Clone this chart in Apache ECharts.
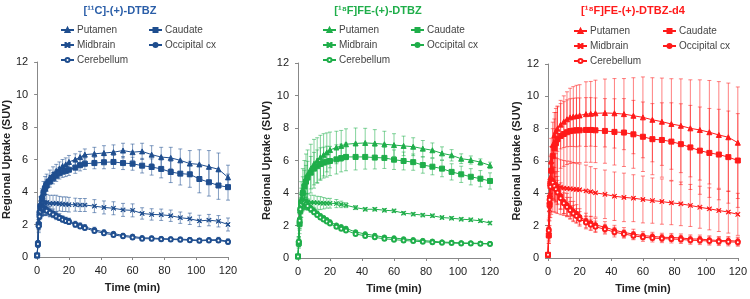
<!DOCTYPE html>
<html>
<head>
<meta charset="utf-8">
<script src="https://cdn.jsdelivr.net/npm/echarts@6/dist/echarts.min.js"></script>
<style>
  html, body { margin: 0; padding: 0; background: #fff; }
  #main { width: 750px; height: 299px; }
</style>
</head>
<body>
<div id="main"></div>
<script>
// time points (min)
var times = [0, 0.5, 1, 1.5, 2, 3, 4, 5, 6, 8, 10, 12, 14, 16, 18, 20, 24, 27, 30, 36, 42, 48, 54, 60, 66, 72, 78, 84, 90, 96, 102, 108, 114, 120];
var regions = ['Putamen', 'Caudate', 'Midbrain', 'Occipital cx', 'Cerebellum'];
var titles = ['[\u00b9\u00b9C]-(+)-DTBZ', '[\u00b9\u2078F]FE-(+)-DTBZ', '[\u00b9\u2078F]FE-(+)-DTBZ-d4'];

// [11C]-(+)-DTBZ
var c11Putamen = [0.1, 0.9, 2.2, 2.9, 3.3, 3.8, 4.2, 4.5, 4.65, 4.9, 5.1, 5.3, 5.45, 5.6, 5.7, 5.85, 6.0, 6.15, 6.3, 6.35, 6.4, 6.45, 6.55, 6.45, 6.5, 6.3, 6.15, 6.1, 5.95, 5.75, 5.7, 5.55, 5.4, 4.9];
var c11PutamenSd = [0.05, 0.1, 0.3, 0.4, 0.4, 0.4, 0.45, 0.45, 0.45, 0.45, 0.45, 0.4, 0.4, 0.4, 0.4, 0.4, 0.35, 0.35, 0.35, 0.4, 0.45, 0.45, 0.45, 0.5, 0.5, 0.55, 0.6, 0.65, 0.7, 0.8, 0.9, 1.0, 1.0, 0.75];
var c11Caudate = [0.1, 0.8, 2.0, 2.7, 3.1, 3.6, 3.95, 4.2, 4.4, 4.65, 4.85, 5.0, 5.15, 5.25, 5.3, 5.37, 5.5, 5.65, 5.74, 5.78, 5.83, 5.85, 5.78, 5.74, 5.62, 5.54, 5.42, 5.23, 5.13, 5.09, 4.8, 4.6, 4.4, 4.3];
var c11CaudateSd = [0.05, 0.1, 0.3, 0.35, 0.35, 0.35, 0.35, 0.35, 0.35, 0.35, 0.35, 0.35, 0.35, 0.35, 0.35, 0.35, 0.35, 0.35, 0.35, 0.35, 0.4, 0.4, 0.4, 0.4, 0.45, 0.5, 0.55, 0.65, 0.7, 0.8, 0.85, 0.85, 0.85, 0.8];
var c11Midbrain = [0.1, 0.8, 2.0, 2.7, 3.0, 3.25, 3.35, 3.35, 3.35, 3.3, 3.3, 3.3, 3.28, 3.25, 3.25, 3.22, 3.22, 3.2, 3.2, 3.13, 3.05, 3.0, 2.9, 2.87, 2.68, 2.62, 2.6, 2.54, 2.42, 2.35, 2.22, 2.27, 2.2, 2.0];
var c11MidbrainSd = [0.05, 0.2, 0.3, 0.4, 0.45, 0.5, 0.5, 0.5, 0.5, 0.5, 0.5, 0.5, 0.45, 0.45, 0.45, 0.45, 0.4, 0.4, 0.4, 0.4, 0.4, 0.4, 0.4, 0.4, 0.35, 0.35, 0.35, 0.35, 0.35, 0.35, 0.35, 0.35, 0.35, 0.4];
var c11Occipital = [0.1, 0.8, 2.0, 2.6, 2.9, 3.05, 3.05, 3.0, 2.95, 2.8, 2.7, 2.58, 2.47, 2.38, 2.3, 2.24, 2.05, 1.95, 1.85, 1.68, 1.54, 1.44, 1.33, 1.27, 1.18, 1.17, 1.13, 1.11, 1.1, 1.07, 1.03, 1.06, 1.06, 0.97];
var c11OccipitalSd = [0.05, 0.2, 0.4, 0.5, 0.5, 0.5, 0.45, 0.4, 0.35, 0.3, 0.25, 0.2, 0.2, 0.15, 0.15, 0.15, 0.15, 0.15, 0.15, 0.15, 0.12, 0.12, 0.12, 0.12, 0.12, 0.12, 0.12, 0.12, 0.12, 0.12, 0.12, 0.12, 0.15, 0.15];
var c11Cerebellum = [0.1, 0.8, 1.9, 2.5, 2.8, 2.95, 2.95, 2.9, 2.85, 2.72, 2.62, 2.5, 2.4, 2.3, 2.22, 2.15, 1.98, 1.88, 1.78, 1.6, 1.46, 1.36, 1.27, 1.2, 1.13, 1.12, 1.1, 1.08, 1.06, 1.03, 1.0, 1.02, 1.02, 0.93];
var c11CerebellumSd = [0.05, 0.2, 0.4, 0.45, 0.45, 0.45, 0.4, 0.35, 0.3, 0.25, 0.2, 0.2, 0.15, 0.15, 0.15, 0.15, 0.15, 0.12, 0.12, 0.12, 0.12, 0.12, 0.12, 0.12, 0.12, 0.12, 0.12, 0.12, 0.12, 0.12, 0.12, 0.12, 0.12, 0.12];

// [18F]FE-(+)-DTBZ
var fePutamen = [0.1, 1.0, 2.3, 3.1, 3.6, 4.2, 4.6, 4.9, 5.15, 5.5, 5.8, 6.0, 6.2, 6.35, 6.5, 6.65, 6.8, 6.9, 7.0, 7.05, 7.08, 7.05, 7.0, 6.95, 6.9, 6.85, 6.73, 6.63, 6.44, 6.32, 6.11, 6.03, 5.9, 5.7];
var fePutamenSd = [0.05, 0.3, 0.6, 0.9, 1.1, 1.3, 1.4, 1.5, 1.5, 1.5, 1.5, 1.4, 1.35, 1.3, 1.2, 1.1, 1.0, 0.95, 0.95, 0.95, 0.9, 0.85, 0.8, 0.7, 0.6, 0.55, 0.5, 0.45, 0.4, 0.35, 0.3, 0.25, 0.2, 0.2];
var feCaudate = [0.1, 0.9, 2.1, 2.9, 3.4, 4.0, 4.4, 4.7, 4.95, 5.25, 5.5, 5.65, 5.78, 5.87, 5.93, 5.97, 6.07, 6.15, 6.22, 6.22, 6.22, 6.18, 6.16, 6.05, 5.97, 5.9, 5.72, 5.62, 5.5, 5.3, 5.15, 5.0, 4.88, 4.74];
var feCaudateSd = [0.05, 0.3, 0.6, 0.8, 0.9, 1.0, 1.0, 1.0, 1.0, 1.0, 1.0, 1.0, 1.0, 0.95, 0.95, 0.9, 0.9, 0.85, 0.85, 0.8, 0.75, 0.7, 0.65, 0.6, 0.55, 0.5, 0.5, 0.5, 0.5, 0.5, 0.5, 0.5, 0.5, 0.5];
var feMidbrain = [0.1, 1.0, 2.3, 3.0, 3.3, 3.5, 3.5, 3.48, 3.45, 3.42, 3.41, 3.4, 3.38, 3.37, 3.37, 3.37, 3.35, 3.3, 3.25, 3.1, 3.0, 3.0, 2.94, 2.9, 2.76, 2.7, 2.64, 2.6, 2.49, 2.45, 2.39, 2.35, 2.29, 2.15];
var feMidbrainSd = [0.05, 0.3, 0.5, 0.6, 0.6, 0.55, 0.5, 0.5, 0.5, 0.45, 0.45, 0.4, 0.4, 0.35, 0.3, 0.3, 0.25, 0.2, 0.15, 0.12, 0.1, 0.1, 0.1, 0.1, 0.1, 0.1, 0.1, 0.1, 0.1, 0.1, 0.1, 0.1, 0.1, 0.1];
var feOccipital = [0.1, 1.0, 2.4, 3.1, 3.4, 3.55, 3.5, 3.4, 3.3, 3.1, 2.92, 2.75, 2.6, 2.48, 2.35, 2.22, 2.02, 1.92, 1.82, 1.6, 1.48, 1.38, 1.28, 1.23, 1.17, 1.12, 1.07, 1.03, 0.98, 0.96, 0.93, 0.92, 0.9, 0.88];
var feOccipitalSd = [0.05, 0.3, 0.5, 0.55, 0.5, 0.45, 0.4, 0.35, 0.3, 0.25, 0.2, 0.15, 0.12, 0.1, 0.1, 0.1, 0.1, 0.1, 0.1, 0.1, 0.1, 0.1, 0.1, 0.1, 0.1, 0.1, 0.1, 0.1, 0.1, 0.1, 0.1, 0.1, 0.1, 0.1];
var feCerebellum = [0.1, 1.0, 2.3, 3.0, 3.3, 3.45, 3.4, 3.3, 3.2, 3.0, 2.82, 2.65, 2.5, 2.37, 2.25, 2.12, 1.92, 1.8, 1.7, 1.48, 1.36, 1.27, 1.18, 1.13, 1.08, 1.04, 1.0, 0.97, 0.94, 0.92, 0.9, 0.89, 0.88, 0.86];
var feCerebellumSd = [0.05, 0.3, 0.5, 0.5, 0.45, 0.4, 0.35, 0.3, 0.25, 0.2, 0.15, 0.12, 0.1, 0.1, 0.1, 0.1, 0.1, 0.1, 0.1, 0.1, 0.1, 0.1, 0.1, 0.1, 0.1, 0.1, 0.1, 0.1, 0.1, 0.1, 0.1, 0.1, 0.1, 0.1];

// [18F]FE-(+)-DTBZ-d4
var d4Putamen = [0.2, 1.5, 3.5, 5.0, 6.0, 7.0, 7.6, 7.85, 8.0, 8.25, 8.43, 8.58, 8.7, 8.75, 8.78, 8.82, 8.9, 8.92, 8.95, 8.97, 8.95, 8.9, 8.8, 8.7, 8.55, 8.43, 8.29, 8.18, 8.02, 7.92, 7.78, 7.61, 7.47, 7.13];
var d4PutamenSd = [0.1, 0.5, 1.0, 1.3, 1.4, 1.4, 1.4, 1.4, 1.4, 1.5, 1.6, 1.7, 1.8, 1.85, 1.9, 1.9, 2.0, 2.0, 2.05, 2.1, 2.15, 2.2, 2.35, 2.5, 2.6, 2.7, 2.8, 2.9, 3.0, 3.1, 3.2, 3.3, 3.35, 3.45];
var d4Caudate = [0.2, 1.4, 3.3, 4.6, 5.4, 6.3, 6.8, 7.1, 7.35, 7.55, 7.67, 7.78, 7.85, 7.88, 7.9, 7.9, 7.92, 7.92, 7.9, 7.86, 7.8, 7.76, 7.65, 7.5, 7.35, 7.3, 7.2, 7.04, 6.84, 6.64, 6.5, 6.4, 6.24, 6.03];
var d4CaudateSd = [0.1, 0.5, 1.0, 1.3, 1.5, 1.7, 1.8, 1.9, 2.0, 2.0, 2.0, 2.0, 2.0, 2.0, 2.0, 2.0, 2.0, 2.0, 2.0, 2.0, 2.05, 2.1, 2.1, 2.15, 2.2, 2.3, 2.4, 2.5, 2.6, 2.7, 2.75, 2.8, 2.85, 2.9];
var d4Midbrain = [0.2, 1.4, 3.0, 3.9, 4.3, 4.55, 4.55, 4.5, 4.45, 4.38, 4.33, 4.3, 4.28, 4.26, 4.24, 4.22, 4.15, 4.1, 4.03, 3.94, 3.82, 3.75, 3.7, 3.62, 3.55, 3.49, 3.41, 3.35, 3.25, 3.14, 3.04, 2.94, 2.84, 2.7];
var d4MidbrainSd = [0.1, 0.5, 1.0, 1.4, 1.6, 1.7, 1.7, 1.7, 1.7, 1.7, 1.7, 1.7, 1.7, 1.65, 1.6, 1.6, 1.6, 1.55, 1.5, 1.5, 1.5, 1.5, 1.45, 1.45, 1.4, 1.4, 1.35, 1.35, 1.3, 1.3, 1.3, 1.3, 1.3, 1.3];
var d4Occipital = [0.2, 1.8, 3.8, 4.6, 4.85, 4.8, 4.6, 4.4, 4.2, 3.85, 3.5, 3.3, 3.1, 2.9, 2.75, 2.55, 2.32, 2.18, 2.05, 1.9, 1.72, 1.58, 1.48, 1.38, 1.34, 1.28, 1.27, 1.24, 1.18, 1.17, 1.12, 1.08, 1.08, 1.04];
var d4OccipitalSd = [0.1, 0.6, 1.0, 1.2, 1.2, 1.1, 1.0, 0.9, 0.85, 0.8, 0.75, 0.7, 0.65, 0.6, 0.55, 0.5, 0.45, 0.4, 0.4, 0.35, 0.3, 0.3, 0.3, 0.25, 0.25, 0.25, 0.25, 0.25, 0.25, 0.25, 0.25, 0.25, 0.25, 0.25];
var d4Cerebellum = [0.2, 1.7, 3.6, 4.4, 4.7, 4.65, 4.45, 4.25, 4.05, 3.7, 3.38, 3.15, 2.95, 2.75, 2.6, 2.42, 2.2, 2.05, 1.93, 1.78, 1.6, 1.48, 1.38, 1.28, 1.24, 1.2, 1.18, 1.15, 1.1, 1.08, 1.05, 1.02, 1.0, 0.98];
var d4CerebellumSd = [0.1, 0.6, 1.0, 1.1, 1.1, 1.0, 0.9, 0.8, 0.75, 0.7, 0.65, 0.6, 0.55, 0.5, 0.45, 0.45, 0.4, 0.35, 0.35, 0.3, 0.3, 0.25, 0.25, 0.25, 0.25, 0.25, 0.25, 0.25, 0.25, 0.25, 0.25, 0.25, 0.25, 0.25];

var panels = [
  { key: 'c11', color: '#1f4e8f', titleColor: '#2a5ea8', values: [c11Putamen, c11Caudate, c11Midbrain, c11Occipital, c11Cerebellum], sds: [c11PutamenSd, c11CaudateSd, c11MidbrainSd, c11OccipitalSd, c11CerebellumSd] },
  { key: 'fe', color: '#1fae4a', titleColor: '#1fae4a', values: [fePutamen, feCaudate, feMidbrain, feOccipital, feCerebellum], sds: [fePutamenSd, feCaudateSd, feMidbrainSd, feOccipitalSd, feCerebellumSd] },
  { key: 'd4', color: '#ff1a1a', titleColor: '#ff1a1a', values: [d4Putamen, d4Caudate, d4Midbrain, d4Occipital, d4Cerebellum], sds: [d4PutamenSd, d4CaudateSd, d4MidbrainSd, d4OccipitalSd, d4CerebellumSd] }
];

// layout of each panel (pixels)
var grids = [
  { left: 36, right: 522, top: 62, bottom: 42 },
  { left: 298, right: 260, top: 63, bottom: 40 },
  { left: 548, right: 9, top: 64, bottom: 38 }
];
var titleX = [115, 373, 628];
var legendCols = [[60, 148], [322, 410], [573, 662]];
var legendTop = [25, 25, 26];

var crossPath = 'path://M0,0L1,0L10,9L10,10L9,10L0,1ZM10,0L10,1L1,10L0,10L0,9L9,0Z';
var symbols = ['triangle', 'rect', crossPath, 'circle', 'emptyCircle'];
var symbolSizes = [5, 5, 4, 4.5, 4];

function errorRender(params, api) {
  var t = api.value(0);
  var lo = api.coord([t, api.value(1)]);
  var hi = api.coord([t, api.value(2)]);
  var w = 2;
  var st = { stroke: api.visual('color'), lineWidth: 1, opacity: 0.55 };
  return {
    type: 'group',
    children: [
      { type: 'line', shape: { x1: lo[0], y1: lo[1], x2: hi[0], y2: hi[1] }, style: st },
      { type: 'line', shape: { x1: lo[0] - w, y1: lo[1], x2: lo[0] + w, y2: lo[1] }, style: st },
      { type: 'line', shape: { x1: hi[0] - w, y1: hi[1], x2: hi[0] + w, y2: hi[1] }, style: st }
    ]
  };
}

var myChart = echarts.init(document.getElementById('main'), null, { renderer: 'canvas' });
var font = 'Liberation Sans, Arial, sans-serif';

var option = {
  animation: false,
  backgroundColor: '#fff',
  title: [],
  legend: [],
  grid: [],
  xAxis: [],
  yAxis: [],
  series: []
};

panels.forEach(function (p, pi) {
  option.title.push({
    text: titles[pi], left: titleX[pi], top: 0, textAlign: 'center',
    textStyle: { color: p.titleColor, fontSize: 11, fontWeight: 'bold', fontFamily: font }
  });
  option.grid.push({ left: grids[pi].left, right: grids[pi].right, top: grids[pi].top, bottom: grids[pi].bottom });
  option.xAxis.push({
    type: 'value', gridIndex: pi, min: 0, max: 120, interval: 20,
    name: 'Time (min)', nameLocation: 'middle', nameGap: 25,
    nameTextStyle: { color: '#222', fontSize: 11, fontWeight: 'bold', fontFamily: font },
    axisLine: { lineStyle: { color: '#888' } },
    axisTick: { show: true, length: 3, lineStyle: { color: '#888' } },
    axisLabel: { color: '#222', fontSize: 11, fontFamily: font, margin: 8 },
    splitLine: { show: false }
  });
  option.yAxis.push({
    type: 'value', gridIndex: pi, min: 0, max: 12, interval: 2,
    name: 'Regional Uptake (SUV)', nameLocation: 'middle', nameGap: 24, nameRotate: 90,
    nameTextStyle: { color: '#222', fontSize: 11, fontWeight: 'bold', fontFamily: font },
    axisLine: { show: true, lineStyle: { color: '#888' } },
    axisTick: { show: true, length: 3, lineStyle: { color: '#888' } },
    axisLabel: { color: '#222', fontSize: 11, fontFamily: font, margin: 9 },
    splitLine: { show: false }
  });

  var names = regions.map(function (r) { return p.key + '|' + r; });
  var legendBase = {
    orient: 'vertical', top: legendTop[pi], padding: 0, itemWidth: 13, itemHeight: 5, itemGap: 5,
    selectedMode: false,
    formatter: function (n) { return n.split('|')[1]; },
    textStyle: { color: '#444', fontSize: 10, fontFamily: font, padding: [0, 0, 0, -2] }
  };
  option.legend.push(Object.assign({}, legendBase, { left: legendCols[pi][0], data: [names[0], names[2], names[4]] }));
  option.legend.push(Object.assign({}, legendBase, { left: legendCols[pi][1], data: [names[1], names[3]] }));

  p.values.forEach(function (vals, si) {
    var sd = p.sds[si];
    option.series.push({
      type: 'custom', xAxisIndex: pi, yAxisIndex: pi, silent: true,
      itemStyle: { color: p.color },
      renderItem: errorRender,
      data: times.map(function (t, i) { return [t, vals[i] - sd[i], vals[i] + sd[i]]; }),
      z: 1
    });
  });
  p.values.forEach(function (vals, si) {
    option.series.push({
      name: names[si], type: 'line', xAxisIndex: pi, yAxisIndex: pi,
      symbol: symbols[si], symbolSize: symbolSizes[si], showAllSymbol: true,
      itemStyle: { color: p.color, borderColor: p.color, borderWidth: 1 },
      lineStyle: { color: p.color, width: 1 },
      data: times.map(function (t, i) { return [t, vals[i]]; }),
      z: 3
    });
  });
});

myChart.setOption(option);
</script>
</body>
</html>
